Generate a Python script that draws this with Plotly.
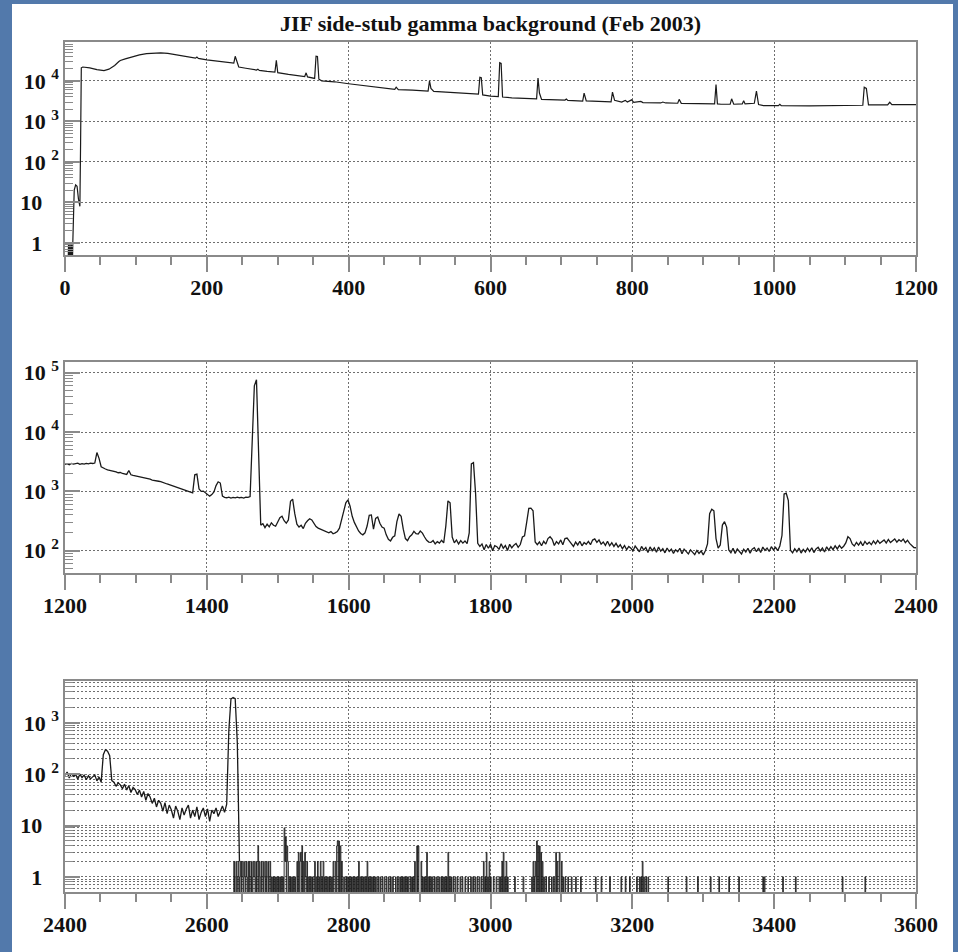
import plotly.graph_objects as go

# ---------------- data ----------------
TITLE = "JIF side-stub gamma background (Feb 2003)"

# Panel 1 : 0 - 1200 keV (knots of the spectrum line)
p1_x = [0, 4, 5, 6, 7, 8, 9, 10, 11, 12, 13, 15, 17, 19, 21, 22, 23, 25, 35, 45, 55, 62, 70, 76, 78, 85, 95, 105, 115, 125,
        135, 145, 160, 175, 184, 186, 188, 200, 215, 230, 238, 240, 242, 245, 255, 270, 272, 274, 285, 296, 298, 300,
        315, 330, 338, 340, 342, 352, 354, 356, 358, 362, 380, 400, 420, 440, 465, 467, 470, 490, 512, 514, 516, 520,
        550, 583, 585, 587, 589, 600, 611, 613, 615, 617, 630, 650, 665, 667, 669, 672, 690, 705, 707, 709, 730, 732,
        735, 750, 770, 772, 775, 785, 790, 793, 799, 802, 812, 815, 840, 843, 847, 864, 866, 869, 890, 916, 918, 920,
        925, 938, 940, 943, 955, 957, 959, 972, 975, 978, 985, 1006, 1008, 1010, 1050, 1100, 1125, 1127, 1130, 1133,
        1160, 1163, 1166, 1200]
p1_y = [0.1, 0.1, 1, 0.1, 1, 0.1, 1, 0.1, 1, 3, 20, 27, 25, 12, 8, 300, 21000, 22000, 21000, 19000, 18000, 19500,
        24000, 30000, 32000, 35000, 40000, 44000, 47000, 49000, 49000, 47500, 43000, 39000, 36500, 39000, 36000, 33000,
        30500, 28500, 27600, 40500, 30000, 22000, 20500, 18500, 19500, 18200, 17200, 16500, 32000, 16000, 14500,
        13500, 12800, 15800, 12500, 11500, 40500, 40000, 11000, 10000, 9500, 8500, 7800, 7000, 6200, 7000, 6100,
        5900, 5600, 10000, 6500, 5500, 5100, 4700, 12300, 12000, 4500, 4200, 4100, 28000, 27000, 4000, 3800, 3700,
        3600, 11800, 5000, 3500, 3400, 3350, 3550, 3300, 3150, 5000, 3200, 3100, 3050, 5300, 3300, 3000, 3300, 3000,
        3400, 2950, 3100, 2900, 2850, 3000, 2850, 2800, 3500, 2780, 2750, 2700, 8100, 2700, 2650, 2650, 3600, 2650,
        2700, 3250, 2700, 2800, 5600, 2600, 2450, 2450, 2650, 2450, 2400, 2420, 2500, 6950, 6500, 2550, 2550, 2960,
        2600, 2600]

# Panel 2 : 1200 - 2400 keV, counts sampled every 3 keV (sample i at 1200 + 3*i)
P2_START, P2_BIN = 1200, 3
p2_counts = [
    2850, 2930, 2800, 2960, 2880, 2900, 2990, 2850, 2940, 2870,
    2960, 2900, 2980, 2950, 3000, 4500, 3600, 2600, 2450, 2380,
    2300, 2270, 2200, 2180, 2130, 2060, 2080, 2000, 1970, 1930,
    2250, 1900, 1860, 1830, 1800, 1740, 1720, 1690, 1650, 1630,
    1600, 1550, 1540, 1500, 1480, 1460, 1400, 1380, 1330, 1300,
    1260, 1230, 1180, 1150, 1120, 1070, 1040, 1010, 990, 960,
    940, 1900, 1950, 1100, 1000, 1010, 940, 860, 830, 880,
    980, 1250, 1450, 1380, 830, 790, 780, 800, 770, 790,
    775, 800, 780, 790, 770, 800, 790, 820, 8000, 60000,
    76000, 3000, 270, 285, 245, 280, 252, 295, 268, 258,
    300, 360, 380, 320, 290, 330, 680, 740, 420, 280,
    250, 268, 236, 290, 320, 345, 330, 295, 255, 240,
    232, 220, 216, 210, 200, 210, 193, 200, 210, 240,
    320, 460, 640, 716, 560, 380, 300, 250, 215, 195,
    185, 200, 260, 395, 400, 230, 350, 370, 290, 250,
    240, 185, 155, 146, 168, 178, 310, 415, 380, 230,
    160, 148, 172, 185, 212, 193, 190, 214, 198, 170,
    150, 140, 138, 148, 130, 142, 134, 150, 135, 260,
    690, 640, 170, 136, 152, 130, 148, 134, 146, 131,
    200, 2900, 3050, 900, 133, 118, 130, 104, 127, 110,
    128, 100, 122, 117, 105, 131, 110, 122, 101, 128,
    112, 124, 132, 114, 127, 170, 178, 300, 515, 520,
    470, 140, 126, 140, 121, 144, 129, 160, 172, 156,
    122, 142, 130, 152, 126, 160, 163, 146, 128, 118,
    140, 125, 144, 121, 137, 128, 143, 126, 151, 158,
    138, 152, 129, 140, 123, 144, 121, 136, 118, 133,
    115, 126, 108, 122, 104, 118, 110, 100, 120, 106,
    96, 118, 103, 113, 93, 116, 100, 112, 94, 115,
    98, 108, 92, 111, 97, 106, 90, 104, 96, 110,
    89, 106, 95, 88, 103, 94, 86, 101, 90, 99,
    85, 100, 130, 420, 500, 470, 160, 110, 125, 270,
    308, 250, 103, 92, 110, 90, 107, 97, 88, 106,
    95, 110, 91, 106, 112, 96, 111, 93, 115, 101,
    111, 97, 117, 103, 114, 100, 120, 180, 900, 930,
    700, 102, 92, 108, 96, 111, 91, 105, 95, 110,
    97, 112, 93, 107, 114, 99, 111, 95, 116, 102,
    117, 104, 121, 107, 123, 110, 119, 135, 172, 160,
    130, 120, 138, 124, 141, 121, 143, 128, 139, 126,
    146, 130, 149, 133, 143, 152, 135, 155, 137, 150,
    158, 139, 153, 143, 157, 137, 150, 133, 124, 113,
    112]

# Panel 3 : 2400 - 2637 keV, counts sampled every 3 keV (sample i at 2400 + 3*i)
P3_START, P3_BIN_C = 2400, 3
p3_counts = [
    95, 110, 84, 104, 91, 99, 80, 100, 86, 96,
    78, 93, 81, 90, 97, 74, 88, 70, 240, 300,
    280, 230, 75, 70, 58, 68, 62, 52, 64, 49,
    60, 44, 55, 50, 40, 49, 36, 46, 31, 42,
    36, 27, 34, 23, 31, 27, 19, 28, 17, 25,
    20, 14, 24, 19, 13, 22, 16, 21, 25, 14,
    20, 15, 23, 13, 18, 22, 15, 21, 12, 20,
    17, 22, 15, 19, 24, 18, 26, 700, 2900, 3100,
    2950, 400, 2]

# Panel 3 : sparse counts above the 2.6 MeV line, 1 keV bins (bin start values)
p3_one_x = [2640, 2643, 2646, 2650, 2653, 2656, 2661, 2665, 2667, 2675, 2678, 2681, 2685, 2688, 2691, 2693, 2695,
            2697, 2699, 2701, 2703, 2705, 2707, 2716, 2718, 2720, 2722, 2724, 2739, 2743, 2745, 2747, 2749, 2754,
            2758, 2762, 2766, 2768, 2770, 2772, 2774, 2776, 2793, 2796, 2798, 2800, 2802, 2804, 2806, 2808, 2810,
            2812, 2816, 2818, 2820, 2822, 2824, 2828, 2830, 2832, 2834, 2836, 2838, 2841, 2844, 2847, 2850, 2853,
            2856, 2859, 2862, 2866, 2869, 2872, 2874, 2876, 2878, 2880, 2882, 2884, 2887, 2889, 2891, 2904, 2906,
            2908, 2912, 2914, 2916, 2918, 2921, 2924, 2927, 2930, 2932, 2934, 2936, 2938, 2942, 2944, 2947, 2950,
            2953, 2957, 2960, 2964, 2968, 2972, 2975, 2978, 2981, 2984, 2987, 2992, 2996, 3000, 3004, 3008, 3012,
            3014, 3020, 3024, 3034, 3046, 3058, 3062, 3075, 3078, 3082, 3086, 3089, 3102, 3105, 3109, 3114, 3120,
            3127, 3148, 3156, 3168, 3184, 3190, 3196, 3206, 3210, 3212, 3216, 3219, 3222, 3250, 3276, 3292, 3310,
            3322, 3336, 3350, 3384, 3386, 3412, 3430, 3496, 3528]
p3_two_x = [2638, 2641, 2644, 2647, 2649, 2652, 2655, 2658, 2660, 2663, 2666, 2669, 2671, 2674, 2677, 2680, 2683,
            2686, 2689, 2710, 2714, 2727, 2731, 2736, 2741, 2752, 2756, 2760, 2764, 2778, 2781, 2790, 2814, 2826,
            2893, 2902, 2990, 2998, 3016, 3022, 3060, 3063, 3073, 3094, 3100, 3214]
p3_tall_x = [2672, 2709, 2711, 2713, 2729, 2732, 2734, 2738, 2783, 2784, 2786, 2788, 2896, 2898, 2910, 2940, 2994,
             3018, 3065, 3067, 3069, 3071, 3092, 3097]
p3_tall_n = [4, 9, 6, 4, 3, 3, 4, 3, 4, 5, 5, 4, 4, 4, 3, 3, 3,
             3, 5, 4, 4, 3, 3, 3]
P3_SPARSE_START = 2637
P3_END = 3600
ZERO_LEVEL = 0.05  # empty bins (log axis cannot show 0), drawn below the axis

x_ranges = [[0, 1200], [1200, 2400], [2400, 3600]]
y_ranges_log = [[-0.30, 4.96], [1.624, 5.185], [-0.30, 3.82]]
y_tickvals = [[1, 10, 100, 1000, 10000], [100, 1000, 10000, 100000], [1, 10, 100, 1000]]

# ---------------- build histograms ----------------
p2_x = [P2_START + P2_BIN * i for i in range(len(p2_counts))]
p3_x = [P3_START + P3_BIN_C * i for i in range(len(p3_counts))]
hits = {}
for x in p3_one_x:
    hits[x] = 1
for x in p3_two_x:
    hits[x] = 2
for x, n in zip(p3_tall_x, p3_tall_n):
    hits[x] = n
h_x = list(range(P3_SPARSE_START, P3_END + 1))
h_y = [hits.get(x, ZERO_LEVEL) for x in h_x]

# ---------------- figure ----------------
W, H = 958, 952
BG = "#5279ab"
LINE = "#1a1a1a"
AX = "#8a8a8a"
GRID = "#6f6f6f"
DASH = "2px,2px"
FONT = "Liberation Serif"
TXT = "#111111"


def px_x(p):
    return p / W


def px_y(p):
    return 1 - p / H


domains_y = [[px_y(255), px_y(42)], [px_y(573), px_y(361.7)], [px_y(892.3), px_y(680.7)]]
dom_x = [px_x(65), px_x(916)]

fig = go.Figure()
fig.add_trace(go.Scatter(x=p1_x, y=p1_y, mode="lines", line=dict(color=LINE, width=1.2),
                         xaxis="x", yaxis="y", showlegend=False))
fig.add_trace(go.Scatter(x=p2_x, y=p2_counts, mode="lines", line=dict(color=LINE, width=1.3),
                         xaxis="x2", yaxis="y2", showlegend=False))
fig.add_trace(go.Scatter(x=p3_x, y=p3_counts, mode="lines", line=dict(color=LINE, width=1.3),
                         xaxis="x3", yaxis="y3", showlegend=False))
fig.add_trace(go.Scatter(x=h_x, y=h_y, mode="lines", line=dict(color=LINE, width=0.9, shape="hv"),
                         xaxis="x3", yaxis="y3", showlegend=False))


def sup_label(v):
    e = len(str(int(v))) - 1
    if e == 0:
        return "1&nbsp;&nbsp;&nbsp;"
    if e == 1:
        return "10&nbsp;&nbsp;&nbsp;"
    return "10 <sup>%d</sup>" % e


layout = dict(
    template="none",
    width=W, height=H, margin=dict(l=0, r=0, t=0, b=0, autoexpand=False),
    paper_bgcolor=BG, plot_bgcolor="white", showlegend=False,
    font=dict(family=FONT, color=TXT),
)
minor_y = [m * 10 ** k for k in range(-1, 6) for m in range(2, 10)]
for i in range(3):
    sx = "" if i == 0 else str(i + 1)
    layout["xaxis" + sx] = dict(
        domain=dom_x, anchor="y" + sx, range=x_ranges[i], type="linear", automargin=False,
        tick0=x_ranges[i][0], dtick=200, ticks="outside", ticklen=15, tickwidth=1.5, tickcolor=AX,
        showline=True, linecolor=AX, linewidth=1.5, mirror=True,
        showgrid=True, gridcolor=GRID, griddash=DASH, gridwidth=1,
        zeroline=False, ticklabelstandoff=-3,
        tickfont=dict(family=FONT, size=22, color=TXT, weight="bold"),
        minor=dict(dtick=50, tick0=0, ticks="outside", ticklen=8, tickwidth=1.5, tickcolor=AX, showgrid=False),
        fixedrange=True,
    )
    layout["yaxis" + sx] = dict(
        domain=domains_y[i], anchor="x" + sx, type="log", range=y_ranges_log[i], automargin=False,
        tickvals=y_tickvals[i], ticktext=[sup_label(v) for v in y_tickvals[i]],
        ticks="inside", ticklen=15, tickwidth=1.5, tickcolor=AX,
        showline=True, linecolor=AX, linewidth=1.5, mirror=True,
        showgrid=True, gridcolor=GRID, griddash=DASH, gridwidth=1,
        zeroline=False,
        tickfont=dict(family=FONT, size=22, color=TXT, weight="bold"),
        minor=dict(tickvals=minor_y, ticks="inside", ticklen=8, tickwidth=1.2, tickcolor=AX,
                   showgrid=(i == 2), gridcolor=GRID, griddash=DASH, gridwidth=1),
        fixedrange=True,
    )

layout["shapes"] = [dict(type="rect", xref="paper", yref="paper", x0=px_x(12), x1=px_x(953), y0=0, y1=px_y(4),
                         fillcolor="white", line=dict(width=0), layer="below")]
layout["annotations"] = [dict(text="<b>" + TITLE + "</b>", xref="paper", yref="paper", x=px_x(490), y=px_y(23),
                              xanchor="center", yanchor="middle", showarrow=False,
                              font=dict(family=FONT, size=22, color=TXT))]
fig.update_layout(**layout)

fig.write_html("out.html", config={"displayModeBar": False},
               post_script="document.body.style.margin='0px';document.body.style.overflow='hidden';")
